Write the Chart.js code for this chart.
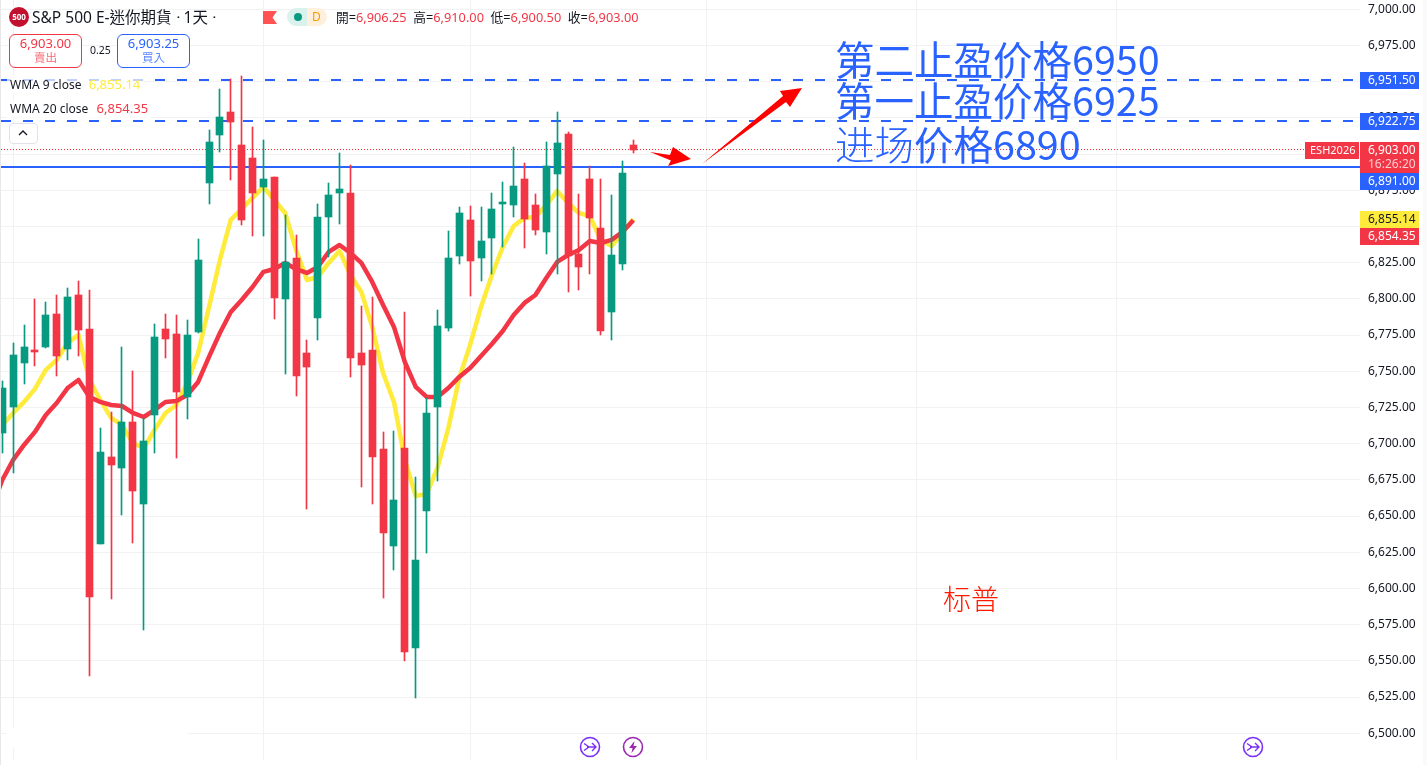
<!DOCTYPE html>
<html>
<head>
  <meta charset="utf-8">
  <title>S&amp;P 500 E-迷你期貨</title>
  <script src="https://cdn.jsdelivr.net/npm/chart.js"></script>
  <style>
    body { margin: 0; background: #fff; font-family: "Noto Sans", "Noto Sans CJK TC", sans-serif; color: #131722; }
    #wrap { position: relative; width: 1427px; height: 765px; overflow: hidden; }
    canvas { position: absolute; left: 0; top: 0; }
    .t { position: absolute; white-space: nowrap; line-height: 1; }
    .big { font-family: "Noto Sans CJK SC", sans-serif; font-size: 39.5px; color: #2962ff; }
    .box { position: absolute; width: 71px; height: 32px; border-radius: 6px; border: 1px solid; text-align: center; font-size: 13px; line-height: 16px; background: #fff; }
    .box span { display: block; font-size: 11.5px; opacity: .75; line-height: 13px; }
    .ohlc b { font-weight: 400; color: #f23645; }
    svg { position: absolute; }
  </style>
</head>
<body>
<div id="wrap">
  <canvas id="grafico" width="1427" height="765"></canvas>

  <div style="position:absolute;left:0;top:0;width:1px;height:765px;background:#e8e8e8"></div>
  <div style="position:absolute;left:1423px;top:0;width:4px;height:765px;background:#fafafa"></div>
  <div style="position:absolute;left:6px;top:729px;width:182px;height:19px;background:#fff"></div>

  <div style="position:absolute;left:9px;top:7px;width:20px;height:20px;border-radius:50%;background:#c2102f;color:#fff;font-size:8px;font-weight:700;line-height:20px;text-align:center">500</div>
  <div class="t" style="left:32px;top:10px;font-size:15.5px">S&amp;P 500 E-迷你期貨 ᐧ 1天 ᐧ</div>
  <svg style="left:263px;top:11px" width="14" height="13"><path d="M0 0H14L9.5 6.5L14 13H0Z" fill="#ff5252"/></svg>
  <div style="position:absolute;left:287px;top:8px;width:20px;height:18px;border-radius:9px 0 0 9px;background:#daf2ee"></div>
  <div style="position:absolute;left:307px;top:8px;width:20px;height:18px;border-radius:0 9px 9px 0;background:#fff0dc"></div>
  <div style="position:absolute;left:294px;top:13px;width:8px;height:8px;border-radius:50%;background:#089981"></div>
  <div class="t" style="left:312px;top:11px;font-size:12px;color:#ff9800">D</div>
  <div class="t ohlc" style="left:336px;top:11px;font-size:12.75px">開=<b>6,906.25</b>&nbsp; 高=<b>6,910.00</b>&nbsp; 低=<b>6,900.50</b>&nbsp; 收=<b>6,903.00</b></div>

  <div class="box" style="left:9px;top:34px;color:#f23645;border-color:#f23645">6,903.00<span>賣出</span></div>
  <div class="t" style="left:90px;top:45px;font-size:10.5px">0.25</div>
  <div class="box" style="left:117px;top:34px;color:#2962ff;border-color:#2962ff">6,903.25<span>買入</span></div>

  <div class="t" style="left:7px;top:75px;padding:3px;font-size:12px;background:rgba(255,255,255,.7)">WMA 9 close&nbsp; <span style="color:#ffeb3b;font-size:13px;margin-left:1px">6,855.14</span></div>
  <div class="t" style="left:7px;top:99px;padding:3px;font-size:12px;background:rgba(255,255,255,.7)">WMA 20 close&nbsp; <span style="color:#f23645;font-size:13px;margin-left:2px">6,854.35</span></div>
  <div style="position:absolute;left:9px;top:123px;width:27px;height:19px;border:1px solid #e0e3eb;border-radius:4px;background:#fff"></div>
  <svg style="left:18px;top:129px" width="10" height="7"><path d="M1 6L5 2L9 6" fill="none" stroke="#131722" stroke-width="1.3"/></svg>

  <div class="t big" style="left:835px;top:38px">第二止盈价格6950</div>
  <div class="t big" style="left:835px;top:79px">第一止盈价格6925</div>
  <div class="t big" style="left:835px;top:123px"><span style="font-weight:200">进场</span>价格6890</div>
  <div class="t" style="left:943px;top:584px;font-size:28px;font-weight:200;color:#ff1a00;font-family:'Noto Sans CJK SC'">标普</div>

  <svg style="left:579px;top:736px" width="22" height="22"><circle cx="11" cy="11" r="9.5" fill="none" stroke="#7b2ff7" stroke-width="1.6"/><path d="M5 7.5L10 11L5 14.5M8 11H17M13 7L17 11L13 15" fill="none" stroke="#7b2ff7" stroke-width="1.4"/></svg>
  <svg style="left:622px;top:736px" width="22" height="22"><circle cx="11" cy="11" r="9.5" fill="none" stroke="#9c27b0" stroke-width="1.6"/><path d="M12.5 5L7 12H10.5L9.5 17L15 10H11.5Z" fill="#9c27b0"/></svg>
  <svg style="left:1242px;top:736px" width="22" height="22"><circle cx="11" cy="11" r="9.5" fill="none" stroke="#7b2ff7" stroke-width="1.6"/><path d="M5 7.5L10 11L5 14.5M8 11H17M13 7L17 11L13 15" fill="none" stroke="#7b2ff7" stroke-width="1.4"/></svg>
</div>

<script>
  // daily candles
  var opens = [6707.25,6725,6756,6764.75,6766.75,6789.5,6765.5,6802.75,6779.25,6630.75,6690.75,6683.25,6715,6658.5,6719.75,6779.25,6775.75,6732.25,6777,6880,6913.25,6929,6906.25,6897.25,6877.25,6884.25,6800,6828.25,6762.5,6786.75,6856.5,6873,6873,6762.5,6764.75,6696.25,6629.5,6697,6558.75,6653.5,6725.5,6780,6829.5,6854.5,6828.25,6842,6865.5,6864.75,6882.75,6864.75,6846.25,6886.25,6914,6831,6882.75,6849,6791,6824,6906.25];
  var highs = [6743,6769.25,6782,6799.75,6798,6802.75,6807.5,6812.5,6806,6710.75,6722,6766.75,6750.25,6717.75,6782.75,6789.5,6789,6785.5,6841.5,6916.5,6945,6952,6954,6918.75,6909.75,6884.25,6858,6844,6771.5,6865.5,6880,6900.75,6892.5,6795,6801.25,6708,6708.75,6791,6677,6731.5,6792.25,6847,6863.5,6864.25,6863.5,6873,6880.75,6905,6894,6872.5,6908.5,6929,6915.25,6872.5,6891.75,6882.75,6871.75,6895.25,6910];
  var lows = [6693.5,6680,6741.25,6753.5,6766,6746.75,6757.75,6760.5,6539.5,6630.75,6593,6650.75,6631.5,6571,6693.75,6759.25,6690,6717,6776.5,6865.5,6901.5,6882,6851,6843.5,6843.5,6786,6748,6733,6655,6771.5,6829,6851.75,6746.25,6670.25,6658.5,6593.5,6612.75,6550,6524.5,6624.75,6674.5,6778,6824,6802,6812.5,6817.25,6835.75,6856.5,6835.25,6844,6831,6817.25,6804.75,6806,6817.25,6775,6771.5,6820,6900.5];
  var closes = [6738.25,6761,6766.5,6763.5,6789,6760.5,6801.25,6778.5,6594.25,6694.25,6685.25,6715,6667.25,6702,6773.75,6772.25,6735.75,6775,6827,6908.5,6925.5,6922.25,6854.5,6873,6882.75,6800.5,6825.5,6746.75,6753,6856.5,6871.75,6875.75,6759.5,6754.25,6691,6638.5,6661,6556.25,6619.75,6721.25,6781.25,6828.25,6859.25,6826.25,6840,6862,6867,6878,6855.25,6847.5,6891.75,6907.75,6829.5,6822,6856,6777.75,6830.25,6887,6903];

  // the averages run on past the left edge, first value is the bar before the screen
  var wma9 = [6702,6712.9,6721.2,6728.8,6737.8,6750.9,6757.8,6769.5,6775.1,6744,6730.2,6717.8,6712.9,6700.5,6697,6709.4,6721.2,6726.7,6741.9,6762.6,6794.4,6826.9,6854.5,6862.1,6869.7,6877.3,6868.3,6859.3,6833.8,6813,6815.1,6824.8,6833.1,6816.5,6804.8,6780.6,6748.8,6728.8,6688.8,6663.9,6665.3,6683.2,6710.8,6745.4,6768.2,6794.4,6816.5,6835.8,6850.3,6855.9,6856.6,6864.8,6874.5,6866.2,6859.3,6857.2,6840.7,6836.5,6845.5,6855.14];
  var wma20 = [6655,6674.9,6688.8,6699.1,6708.1,6719.8,6728.1,6738.4,6744,6732.3,6728.8,6726.7,6726,6721.2,6718.4,6723.3,6728.8,6729.5,6733.6,6742.6,6759.9,6776.4,6790.9,6799.2,6808.2,6818.6,6820.6,6824.8,6820.6,6817.9,6822,6832.4,6837.2,6831.7,6824.8,6811.7,6795.8,6780.6,6756.4,6739.2,6732.3,6732.3,6738.4,6746.1,6752.3,6760.6,6768.8,6777.8,6788.9,6797.2,6802.7,6814.4,6825.5,6830.3,6833.8,6840,6838.6,6840.7,6846.2,6854.35];

  var priceTicks = [7000,6975,6950,6925,6900,6875,6850,6825,6800,6775,6750,6725,6700,6675,6650,6625,6600,6575,6550,6525,6500];
  var monthGrid = [1,24,43,64.77,84.07,102.45];

  var stop2 = 6951.5, stop1 = 6922.75, lastPrice = 6903, entry = 6891;
  var tagPrices = [6951.5,6922.75,6903,6891,6855.14,6854.35];
  var tagColors = ['#2962ff','#2962ff','#f23645','#2962ff','#ffeb3b','#f23645'];

  // hand drawn red arrows, in bar index / price
  var arrowSmallX = [59.53,61.37,61.64,63.3,61.18,61.46];
  var arrowSmallY = [6901.45,6899.4,6904.9,6896.6,6891.8,6895.6];
  var arrowBigX = [64.31,71.76,71.48,73.5,72.4,72.03];
  var arrowBigY = [6893.16,6940.1,6943.6,6945.65,6932.5,6936];

  var red = '#f23645', green = '#089981';
  var xMin = -0.21, xMax = 124.79;
  var indices = opens.map(function(_, i) { return i; });

  function money(v) {
    return v.toLocaleString('en-US', { minimumFractionDigits: 2, maximumFractionDigits: 2 });
  }
  function candleColors() {
    return opens.map(function(o, i) { return closes[i] < o ? red : green; });
  }
  function hline(price, color, dash, width) {
    return {
      type: 'line', isLevel: true, data: [{ x: 0.1 + xMin, y: price }, { x: xMax, y: price }],
      borderColor: color, borderWidth: width, borderDash: dash, pointRadius: 0, order: 6
    };
  }
  function wmaPoints(values) {
    return values.map(function(v, i) { return { x: i - 1, y: v }; });
  }

  // TradingView keeps candles and level lines on whole pixels
  var snapBars = {
    id: 'snapBars',
    afterDatasetsUpdate: function(chart) {
      chart.data.datasets.forEach(function(ds, n) {
        var els = chart.getDatasetMeta(n).data;
        if (ds.isLevel) {
          els.forEach(function(el) {
            el.x = Math.round(el.x);
            el.y = ds.borderWidth === 1 ? Math.floor(el.y) + 0.5 : Math.round(el.y);
          });
        }
        if (ds.type !== 'bar') return;
        els.forEach(function(el) {
          el.x = Math.round(el.x - 0.5) + 0.5;
          el.y = Math.round(el.y);
          el.base = Math.round(el.base);
          if (el.base === el.y) el.base = el.y + 1;
        });
      });
    }
  };

  var overlays = {
    id: 'overlays',
    afterDraw: function(chart) {
      var c = chart.ctx, sx = chart.scales.x, sy = chart.scales.y;
      function arrow(xs, ys) {
        c.beginPath();
        xs.forEach(function(v, i) {
          c.lineTo(sx.getPixelForValue(v), sy.getPixelForValue(ys[i]));
        });
        c.closePath();
        c.fillStyle = '#ff0000';
        c.fill();
      }
      arrow(arrowSmallX, arrowSmallY);
      arrow(arrowBigX, arrowBigY);

      // price tags on the axis, pushed down when they would overlap
      c.textBaseline = 'middle';
      c.textAlign = 'left';
      var prev = -100;
      tagPrices.forEach(function(p, i) {
        var h = p === lastPrice ? 31 : 17;
        var top = Math.max(Math.round(sy.getPixelForValue(p)) - 8, prev);
        prev = top + h;
        c.font = '12px "Noto Sans"';
        c.fillStyle = tagColors[i];
        c.fillRect(1360, top, 59, h);
        c.fillStyle = tagColors[i] === '#ffeb3b' ? '#131722' : '#fff';
        c.fillText(money(p), 1368, top + 9);
        if (p === lastPrice) {
          c.fillStyle = 'rgba(255,255,255,.75)';
          c.fillText('16:26:20', 1368, top + 23);
          c.fillStyle = red;
          c.fillRect(1305, top, 54, 17);
          c.fillStyle = '#fff';
          c.font = '11px "Noto Sans"';
          c.fillText('ESH2026', 1310, top + 9);
        }
      });
    }
  };

  var ctx = document.getElementById('grafico').getContext('2d');
  new Chart(ctx, {
    type: 'bar',
    data: {
      datasets: [
        {
          type: 'bar', order: 1, barThickness: 7, grouped: false, borderWidth: 0,
          backgroundColor: candleColors(),
          data: indices.map(function(i) { return { x: i, y: [opens[i], closes[i]] }; })
        },
        {
          type: 'bar', order: 2, barThickness: 1, grouped: false, borderWidth: 0,
          backgroundColor: candleColors(),
          data: indices.map(function(i) { return { x: i, y: [lows[i], highs[i]] }; })
        },
        {
          type: 'line', order: 3, borderColor: red, borderWidth: 4.5, pointRadius: 0, tension: 0, borderJoinStyle: 'round',
          data: wmaPoints(wma20)
        },
        {
          type: 'line', order: 4, borderColor: '#ffeb3b', borderWidth: 4.5, pointRadius: 0, tension: 0, borderJoinStyle: 'round',
          data: wmaPoints(wma9)
        },
        hline(stop2, '#2962ff', [10, 12], 2),
        hline(stop1, '#2962ff', [10, 12], 2),
        hline(entry, '#2962ff', [], 2),
        hline(lastPrice, '#ff2a36', [1, 2], 1)
      ]
    },
    plugins: [snapBars, overlays],
    options: {
      responsive: false,
      animation: false,
      events: [],
      layout: { padding: { bottom: 5 } },
      plugins: { legend: { display: false }, tooltip: { enabled: false } },
      scales: {
        x: {
          type: 'linear', min: xMin, max: xMax, offset: false,
          border: { display: false },
          grid: { color: '#f2f2f2', drawTicks: false, offset: false },
          ticks: { display: false },
          afterBuildTicks: function(s) { s.ticks = monthGrid.map(function(v) { return { value: v }; }); },
          afterFit: function(s) { s.height = 0; s.paddingLeft = 0; s.paddingRight = 0; }
        },
        y: {
          type: 'linear', position: 'right', min: 6481.5, max: 7006.42,
          border: { display: false },
          grid: { color: '#f2f2f2', drawTicks: false },
          ticks: {
            padding: 8, color: '#131722', font: { size: 12, family: '"Noto Sans"' },
            callback: function(v) { return money(v); }
          },
          afterBuildTicks: function(s) { s.ticks = priceTicks.map(function(v) { return { value: v }; }); },
          afterFit: function(s) { s.width = 67; s.paddingTop = 0; s.paddingBottom = 0; }
        }
      }
    }
  });
</script>
</body>
</html>
